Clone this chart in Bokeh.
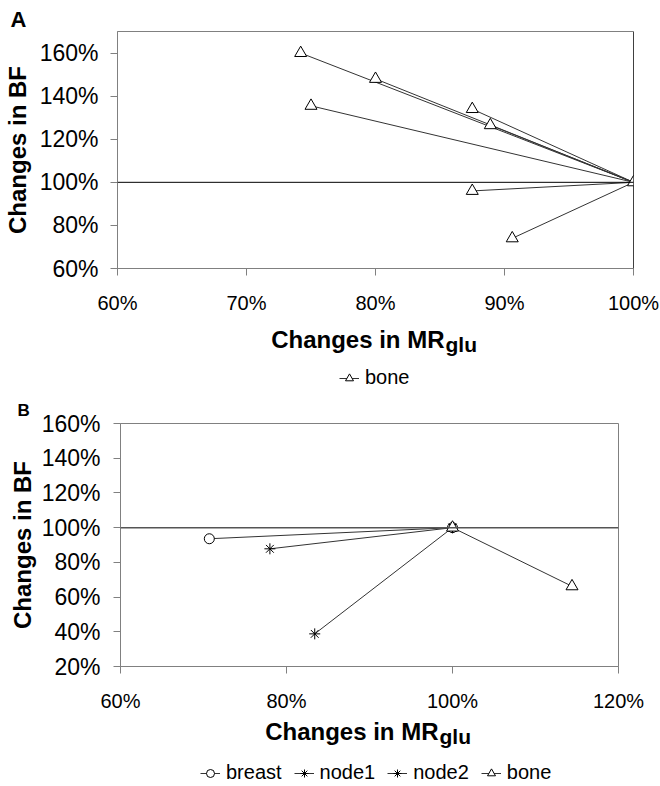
from bokeh.plotting import figure
from bokeh.models import (Range1d, FixedTicker, PrintfTickFormatter, Span, Label,
                          Legend, LegendItem, ColumnDataSource, Title)
from bokeh.embed import file_html
from bokeh.resources import INLINE

# ---------------- data ----------------
BASE_MR = 100.0
BASE_BF = 100.0

# Panel A: bone lesions, changes (%) in MRglu and BF
A_MR = [74.2, 80.0, 87.5, 88.9, 75.0, 87.5, 90.6]
A_BF = [160.0, 148.0, 134.0, 126.5, 135.5, 96.0, 74.0]
A_XTICKS = [60, 70, 80, 90, 100]
A_YTICKS = [60, 80, 100, 120, 140, 160]

# Panel B: one patient, several lesions
B_SERIES = ["breast", "node1", "node2", "bone"]
B_MR = [70.7, 78.0, 83.4, 114.4]
B_BF = [93.6, 87.8, 38.8, 66.2]
B_XTICKS = [60, 80, 100, 120]
B_YTICKS = [20, 40, 60, 80, 100, 120, 140, 160]

FONT = "Liberation Sans"
GREY = "#808080"
LINE = "#333333"
W = 660


def base_fig(xr, yr, xticks, yticks, height, bl, br, bt, bb, letter, lsize, lstand,
             loff, ylab_standoff, ytitle_standoff):
    p = figure(width=W, height=height, x_range=Range1d(*xr), y_range=Range1d(*yr),
               output_backend="svg", toolbar_location=None,
               min_border_left=bl, min_border_right=br, min_border_top=bt,
               min_border_bottom=bb)
    p.title = Title(text=letter, align="left", offset=loff,
                    text_font=FONT, text_font_size=lsize, text_font_style="bold",
                    text_color="black", standoff=lstand)
    p.grid.visible = False
    p.outline_line_color = GREY
    p.outline_line_width = 1
    for ax in (p.xaxis[0], p.yaxis[0]):
        ax.axis_line_color = GREY
        ax.major_tick_line_color = GREY
        ax.minor_tick_line_color = None
        ax.major_tick_out = 7
        ax.major_tick_in = 0
        ax.major_label_text_font = FONT
        ax.major_label_text_color = "black"
        ax.formatter = PrintfTickFormatter(format="%d%%")
    p.xaxis.ticker = FixedTicker(ticks=xticks)
    p.yaxis.ticker = FixedTicker(ticks=yticks)
    p.xaxis.major_label_text_font_size = "20px"
    p.xaxis.major_label_standoff = 16
    p.yaxis.major_label_text_font_size = "23px"
    p.yaxis.major_label_standoff = ylab_standoff
    p.yaxis.axis_label = "Changes in BF"
    p.yaxis.axis_label_text_font = FONT
    p.yaxis.axis_label_text_font_size = "24px"
    p.yaxis.axis_label_text_font_style = "bold"
    p.yaxis.axis_label_text_color = "black"
    p.yaxis.axis_label_standoff = ytitle_standoff
    return p


def text_fig(xr, height, bl, br, title_from_top, xc):
    # y range lies below the data, so the series renderers used by the legend stay hidden
    t = figure(width=W, height=height, x_range=Range1d(*xr), y_range=Range1d(-height, 0),
               output_backend="svg", toolbar_location=None,
               x_axis_type=None, y_axis_type=None,
               min_border_left=bl, min_border_right=br, min_border_top=0,
               min_border_bottom=0)
    t.grid.visible = False
    t.outline_line_color = None
    yb = -title_from_top
    t.add_layout(Label(x=xc, y=yb, x_offset=69, text="Changes in MR",
                       text_align="right", text_baseline="alphabetic",
                       text_font=FONT, text_font_size="24px", text_font_style="bold",
                       text_color="black"))
    t.add_layout(Label(x=xc, y=yb - 5, x_offset=70, text="glu",
                       text_align="left", text_baseline="alphabetic",
                       text_font=FONT, text_font_size="21px", text_font_style="bold",
                       text_color="black"))
    return t


def legend(items, loc):
    return Legend(items=items, location=loc, orientation="horizontal",
                  label_text_font=FONT, label_text_font_size="20px",
                  label_text_color="black",
                  glyph_width=20, glyph_height=20, label_standoff=6, spacing=12,
                  padding=2, margin=0, border_line_color=None, background_fill_alpha=0)


# ---------------- panel A ----------------
pa = base_fig((60, 100), (60, 170), A_XTICKS, A_YTICKS, 318, 117, 27, 31, 50,
              "A", "22px", 0, -107, 12, 6)
pa.add_layout(Span(location=BASE_BF, dimension="width", line_color="black", line_width=1))
pa.add_layout(Span(location=BASE_MR, dimension="height", line_color="black", line_width=1))

srcA = ColumnDataSource(dict(
    xs=[[m, BASE_MR] for m in A_MR],
    ys=[[b, BASE_BF] for b in A_BF],
))
ptsA = ColumnDataSource(dict(x=A_MR + [BASE_MR], y=A_BF + [BASE_BF]))
line_kw = dict(line_color=LINE, line_width=1)
tri_kw = dict(marker="triangle", size=12, line_color="black", line_width=1, fill_color="white")
pa.multi_line("xs", "ys", source=srcA, **line_kw)
pa.scatter("x", "y", source=ptsA, **tri_kw)

ta = text_fig((60, 100), 74, 117, 27, 21, 80)
la = ta.multi_line("xs", "ys", source=srcA, **line_kw)
ma = ta.scatter("x", "y", source=ptsA, **tri_kw)
ta.add_layout(legend([LegendItem(label="bone", renderers=[la, ma])], (222, 3)))

# ---------------- panel B ----------------
pb = base_fig((60, 120), (20, 160), B_XTICKS, B_YTICKS, 324, 120, 42, 31, 50,
              "B", "17px", 7, -103, 13, 3)
pb.add_layout(Span(location=BASE_BF, dimension="width", line_color="#555555", line_width=1.5))

markers = ["circle", "asterisk", "asterisk", "triangle"]
msize = [10, 11, 11, 12]
tb = text_fig((60, 120), 70, 120, 42, 15, 90)
items = []
for name, m, b, mk, sz in zip(B_SERIES, B_MR, B_BF, markers, msize):
    src = ColumnDataSource(dict(x=[m, BASE_MR], y=[b, BASE_BF]))
    kw = dict(marker=mk, size=sz, line_color="black", line_width=1, fill_color="white")
    pb.line("x", "y", source=src, **line_kw)
    pb.scatter("x", "y", source=src, **kw)
    dl = tb.line("x", "y", source=src, **line_kw)
    ds = tb.scatter("x", "y", source=src, **kw)
    items.append(LegendItem(label=name, renderers=[dl, ds]))
tb.add_layout(legend(items, (80, 2)))

# separate roots, stacked top to bottom, so that the frames are not aligned to each other
open("out.html", "w").write(file_html([pa, ta, pb, tb], INLINE))
